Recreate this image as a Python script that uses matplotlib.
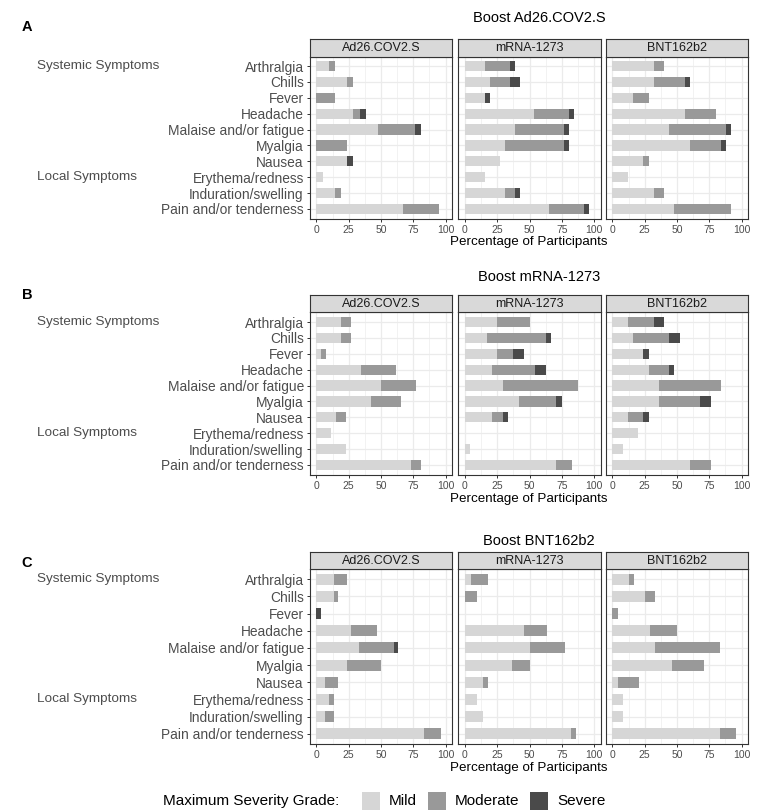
import matplotlib
matplotlib.use("Agg")
import matplotlib.pyplot as plt
from matplotlib.transforms import blended_transform_factory
from matplotlib.patches import Rectangle

plt.rcParams['font.family'] = ['Liberation Sans', 'DejaVu Sans']

# ---------------- data ----------------
symptoms = ["Arthralgia", "Chills", "Fever", "Headache", "Malaise and/or fatigue",
            "Myalgia", "Nausea", "Erythema/redness", "Induration/swelling",
            "Pain and/or tenderness"]
group_labels = ["Systemic Symptoms", "Local Symptoms"]
group_rows = ["Arthralgia", "Erythema/redness"]
vaccines = ["Ad26.COV2.S", "mRNA-1273", "BNT162b2"]
boost_titles = ["Boost Ad26.COV2.S", "Boost mRNA-1273", "Boost BNT162b2"]
panel_letters = ["A", "B", "C"]
severity = ["Mild", "Moderate", "Severe"]
xticks = [0, 25, 50, 75, 100]
xlabel = "Percentage of Participants"
legend_title = "Maximum Severity Grade:"

# Boost Ad26.COV2.S  (per vaccine: Ad26.COV2.S, mRNA-1273, BNT162b2)
A_mild = [[9.5, 23.8, 0, 28.6, 47.6, 0, 23.8, 4.8, 14.3, 66.7],
          [15.4, 19.2, 15.4, 53.8, 38.5, 30.8, 26.9, 15.4, 30.8, 65.4],
          [32, 32, 16, 56, 44, 60, 24, 12, 32, 48]]
A_moderate = [[4.8, 4.8, 14.3, 4.8, 28.6, 23.8, 0, 0, 4.8, 28.6],
              [19.2, 15.4, 0, 26.9, 38.5, 46.2, 0, 0, 7.7, 26.9],
              [8, 24, 12, 24, 44, 24, 4, 0, 8, 44]]
A_severe = [[0, 0, 0, 4.8, 4.8, 0, 4.8, 0, 0, 0],
            [3.8, 7.7, 3.8, 3.8, 3.8, 3.8, 0, 0, 3.8, 3.8],
            [0, 4, 0, 0, 4, 4, 0, 0, 0, 0]]

# Boost mRNA-1273
B_mild = [[19.2, 19.2, 3.8, 34.6, 50, 42.3, 15.4, 11.5, 23.1, 73.1],
          [25, 16.7, 25, 20.8, 29.2, 41.7, 20.8, 0, 4.2, 70.8],
          [12, 16, 24, 28, 36, 36, 12, 20, 8, 60]]
B_moderate = [[7.7, 7.7, 3.8, 26.9, 26.9, 23.1, 7.7, 0, 0, 7.7],
              [25, 45.8, 12.5, 33.3, 58.3, 29.2, 8.3, 0, 0, 12.5],
              [20, 28, 0, 16, 48, 32, 12, 0, 0, 16]]
B_severe = [[0, 0, 0, 0, 0, 0, 0, 0, 0, 0],
            [0, 4.2, 8.3, 8.3, 0, 4.2, 4.2, 0, 0, 0],
            [8, 8, 4, 4, 0, 8, 4, 0, 0, 0]]

# Boost BNT162b2
C_mild = [[13.3, 13.3, 0, 26.7, 33.3, 23.3, 6.7, 10, 6.7, 83.3],
          [4.5, 0, 0, 45.5, 50, 36.4, 13.6, 9.1, 13.6, 81.8],
          [12.5, 25, 0, 29.2, 33.3, 45.8, 4.2, 8.3, 8.3, 83.3]]
C_moderate = [[10, 3.3, 0, 20, 26.7, 26.7, 10, 3.3, 6.7, 13.3],
              [13.6, 9.1, 0, 18.2, 27.3, 13.6, 4.5, 0, 0, 4.5],
              [4.2, 8.3, 4.2, 20.8, 50, 25, 16.7, 0, 0, 12.5]]
C_severe = [[0, 0, 3.3, 0, 3.3, 0, 0, 0, 0, 0],
            [0, 0, 0, 0, 0, 0, 0, 0, 0, 0],
            [0, 0, 0, 0, 0, 0, 0, 0, 0, 0]]

panels_data = [(A_mild, A_moderate, A_severe),
               (B_mild, B_moderate, B_severe),
               (C_mild, C_moderate, C_severe)]

# ---------------- style / layout ----------------
colors = ["#D6D6D6", "#999999", "#4A4A4A"]
W, H = 764, 811
fig = plt.figure(figsize=(W / 100, H / 100), dpi=100)

facet_x = [(310, 452), (458.5, 600.5), (606, 748)]
# (strip_top, axes_top, axes_bottom, title_y, letter_y, xlabel_y)
panel_y = [(39, 56.5, 218.5, 18, 27, 242),
           (295, 312.5, 474.5, 277, 295, 499),
           (552, 569, 744, 541, 563, 768)]

grid_c = "#EBEBEB"
border_c = "#333333"
text_c = "#4D4D4D"


def rect(l, t, r, b):
    return [l / W, 1 - b / H, (r - l) / W, (b - t) / H]


ypos = list(range(1, len(symptoms) + 1))

for p, (mild_l, mod_l, sev_l) in enumerate(panels_data):
    st, at, ab, ty, ly, xy = panel_y[p]
    axes = []
    for v in range(3):
        l, r = facet_x[v]
        ax = fig.add_axes(rect(l, at, r, ab))
        axes.append(ax)
        mild = mild_l[v]
        mod = mod_l[v]
        sev = sev_l[v]
        left2 = [a + b for a, b in zip(mild, mod)]
        ax.barh(ypos, mild, height=0.65, color=colors[0], zorder=3)
        ax.barh(ypos, mod, left=mild, height=0.65, color=colors[1], zorder=3)
        ax.barh(ypos, sev, left=left2, height=0.65, color=colors[2], zorder=3)
        ax.set_xlim(-5, 105)
        ax.set_ylim(len(symptoms) + 0.6, 0.4)
        ax.set_xticks(xticks)
        ax.set_xticks([12.5, 37.5, 62.5, 87.5], minor=True)
        ax.set_yticks(ypos)
        ax.grid(True, which='major', color=grid_c, linewidth=0.9, zorder=0)
        ax.grid(True, which='minor', axis='x', color=grid_c, linewidth=0.45, zorder=0)
        ax.set_axisbelow(True)
        for s in ax.spines.values():
            s.set_color(border_c)
            s.set_linewidth(0.8)
        ax.tick_params(axis='x', which='major', length=2.5, width=0.7, color=border_c,
                       labelsize=7.5, labelcolor=text_c, pad=2)
        ax.tick_params(axis='x', which='minor', length=0)
        if v == 0:
            ax.set_yticklabels(symptoms)
            ax.tick_params(axis='y', length=2.5, width=0.7, color=border_c,
                           labelsize=9.9, labelcolor=text_c, pad=2)
        else:
            ax.set_yticklabels([])
            ax.tick_params(axis='y', length=0)
        # strip
        sax = fig.add_axes(rect(l, st, r, at))
        sax.set_facecolor("#D9D9D9")
        sax.set_xticks([])
        sax.set_yticks([])
        for s in sax.spines.values():
            s.set_color(border_c)
            s.set_linewidth(0.8)
        sax.text(0.5, 0.5, vaccines[v], ha='center', va='center', fontsize=9,
                 color="#1A1A1A", transform=sax.transAxes)
    # group labels
    tr = blended_transform_factory(fig.transFigure, axes[0].transData)
    for g, row in zip(group_labels, group_rows):
        fig.text(37 / W, symptoms.index(row) + 1, g, ha='left', va='center',
                 fontsize=9.7, color=text_c, transform=tr)
    # title, letter, x label
    fig.text(539 / W, 1 - ty / H, boost_titles[p], ha='center', va='center',
             fontsize=10.5, color="black")
    fig.text(27 / W, 1 - ly / H, panel_letters[p], ha='center', va='center',
             fontsize=10.5, fontweight='bold', color="black")
    fig.text((facet_x[0][0] + facet_x[2][1]) / 2 / W, 1 - xy / H, xlabel,
             ha='center', va='center', fontsize=9.6, color="black")

# legend
ly = 801
fig.text(163 / W, 1 - ly / H, legend_title, ha='left', va='center',
         fontsize=11, color="black")
key_x = [362, 428, 530]
for k, (name, c) in enumerate(zip(severity, colors)):
    x0 = key_x[k]
    fig.patches.append(Rectangle((x0 / W, 1 - (ly + 9) / H), 18 / W, 18 / H,
                                 transform=fig.transFigure, facecolor=c,
                                 edgecolor='none'))
    fig.text((x0 + 27) / W, 1 - ly / H, name, ha='left', va='center',
             fontsize=11, color="black")

fig.savefig("out.png", dpi=100, facecolor="white")
